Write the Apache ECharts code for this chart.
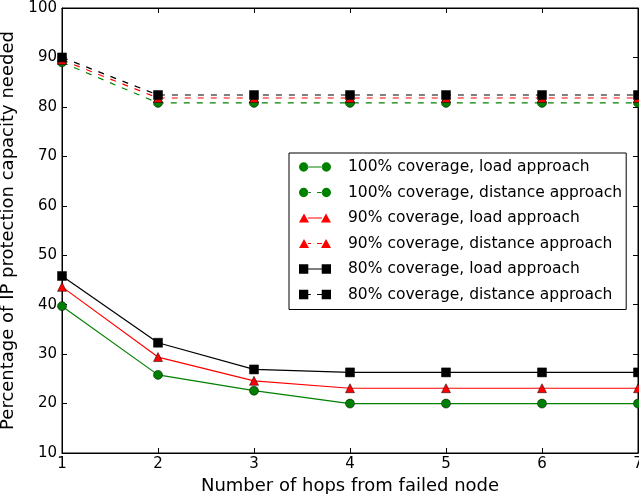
<!DOCTYPE html>
<html>
<head>
<meta charset="utf-8">
<script src="https://cdn.jsdelivr.net/npm/echarts@6/dist/echarts.min.js"></script>
<style>
  html, body { margin: 0; padding: 0; background: #fff; }
  #chart { width: 639px; height: 494px; }
</style>
</head>
<body>
<div id="chart"></div>
<script>
// hops from failed node
var hops = [1, 2, 3, 4, 5, 6, 7];

// percentage of IP protection capacity needed
var load100 = [39.7, 25.8, 22.6, 20.0, 20.0, 20.0, 20.0];
var dist100 = [89.0, 80.8, 80.8, 80.8, 80.8, 80.8, 80.8];
var load90 = [43.6, 29.4, 24.6, 23.1, 23.1, 23.1, 23.1];
var dist90 = [89.5, 81.8, 81.8, 81.8, 81.8, 81.8, 81.8];
var load80 = [45.8, 32.3, 26.9, 26.3, 26.3, 26.3, 26.3];
var dist80 = [90.0, 82.4, 82.4, 82.4, 82.4, 82.4, 82.4];

var seriesNames = [
    '100% coverage, load approach',
    '100% coverage, distance approach',
    '90% coverage, load approach',
    '90% coverage, distance approach',
    '80% coverage, load approach',
    '80% coverage, distance approach'
];

var font = 'DejaVu Sans';

// legend icons: marker - line - marker, like matplotlib
var mk = {
    circle: function (x) {
        return 'M' + (x + 0.5) + ' 5 A4.5 4.5 0 1 0 ' + (x + 9.5) + ' 5 A4.5 4.5 0 1 0 ' + (x + 0.5) + ' 5 Z ';
    },
    triangle: function (x) {
        return 'M' + x + ' 9.5 L' + (x + 5) + ' 0.5 L' + (x + 10) + ' 9.5 Z ';
    },
    rect: function (x) {
        return 'M' + (x + 0.5) + ' 0.5 H' + (x + 9.5) + ' V9.5 H' + (x + 0.5) + ' Z ';
    }
};
function legendIcon(shape, dashed) {
    var p = mk[shape](0) + mk[shape](22);
    if (dashed) {
        p += 'M9 4.4 H12 V5.6 H9 Z M18 4.4 H23 V5.6 H18 Z';
    } else {
        p += 'M9 4.4 H23 V5.6 H9 Z';
    }
    return 'path://' + p;
}

function pairs(ys) {
    var out = [];
    for (var i = 0; i < hops.length; i++) {
        out.push([hops[i], ys[i]]);
    }
    return out;
}

function makeSeries(name, ys, color, symbol, size, dashed) {
    return {
        name: name,
        type: 'line',
        data: pairs(ys),
        symbol: symbol,
        symbolSize: size,
        showSymbol: true,
        animation: false,
        lineStyle: {
            color: color,
            width: 1.2,
            type: dashed ? [6, 7] : 'solid'
        },
        itemStyle: {
            color: color,
            borderColor: '#000',
            borderWidth: 0.5
        }
    };
}

var shapes = ['circle', 'circle', 'triangle', 'triangle', 'rect', 'rect'];
var legendData = [];
for (var i = 0; i < seriesNames.length; i++) {
    legendData.push({ name: seriesNames[i], icon: legendIcon(shapes[i], i % 2 === 1) });
}

var chart = echarts.init(document.getElementById('chart'));

var option = {
    backgroundColor: '#fff',
    animation: false,
    grid: {
        left: 62,
        right: 1,
        top: 8,
        bottom: 41,
        outerBoundsMode: 'none',
        containLabel: false,
        show: true,
        borderColor: '#000',
        borderWidth: 1
    },
    legend: {
        orient: 'vertical',
        left: 289,
        top: 153,
        data: legendData,
        backgroundColor: '#fff',
        borderColor: '#000',
        borderWidth: 1,
        borderRadius: 0,
        padding: [6, 4, 7, 10],
        itemWidth: 32,
        itemHeight: 10,
        itemGap: 9.5,
        itemStyle: { borderWidth: 0 },
        lineStyle: { width: 0 },
        textStyle: { fontFamily: font, fontSize: 15.5, color: '#000', padding: [0, 0, 0, 12] }
    },
    xAxis: [{
        type: 'value',
        min: 1,
        max: 7,
        interval: 1,
        name: 'Number of hops from failed node',
        nameLocation: 'middle',
        nameGap: 21,
        nameTextStyle: { fontFamily: font, fontSize: 18, color: '#000' },
        axisLine: { show: true, lineStyle: { color: '#000' } },
        axisTick: { inside: true, length: 5, lineStyle: { color: '#000' } },
        axisLabel: { fontFamily: font, fontSize: 15, color: '#000', margin: 4 },
        splitLine: { show: false }
    }, {
        type: 'value',
        position: 'top',
        min: 1,
        max: 7,
        interval: 1,
        axisLine: { show: true, lineStyle: { color: '#000' } },
        axisTick: { inside: true, length: 5, lineStyle: { color: '#000' } },
        axisLabel: { show: false },
        splitLine: { show: false }
    }],
    yAxis: [{
        type: 'value',
        min: 10,
        max: 100,
        interval: 10,
        name: 'Percentage of IP protection capacity needed',
        nameLocation: 'middle',
        nameGap: 39,
        nameTextStyle: { fontFamily: font, fontSize: 18, color: '#000' },
        axisLine: { show: true, lineStyle: { color: '#000' } },
        axisTick: { inside: true, length: 5, lineStyle: { color: '#000' } },
        axisLabel: { fontFamily: font, fontSize: 15, color: '#000', margin: 5 },
        splitLine: { show: false }
    }, {
        type: 'value',
        position: 'right',
        min: 10,
        max: 100,
        interval: 10,
        axisLine: { show: true, lineStyle: { color: '#000' } },
        axisTick: { inside: true, length: 5, lineStyle: { color: '#000' } },
        axisLabel: { show: false },
        splitLine: { show: false }
    }],
    series: [
        makeSeries(seriesNames[0], load100, '#008000', 'circle', 9, false),
        makeSeries(seriesNames[1], dist100, '#008000', 'circle', 9, true),
        makeSeries(seriesNames[2], load90, '#ff0000', 'triangle', 9, false),
        makeSeries(seriesNames[3], dist90, '#ff0000', 'triangle', 9, true),
        makeSeries(seriesNames[4], load80, '#000000', 'rect', 9, false),
        makeSeries(seriesNames[5], dist80, '#000000', 'rect', 9, true)
    ]
};

chart.setOption(option);
</script>
</body>
</html>
